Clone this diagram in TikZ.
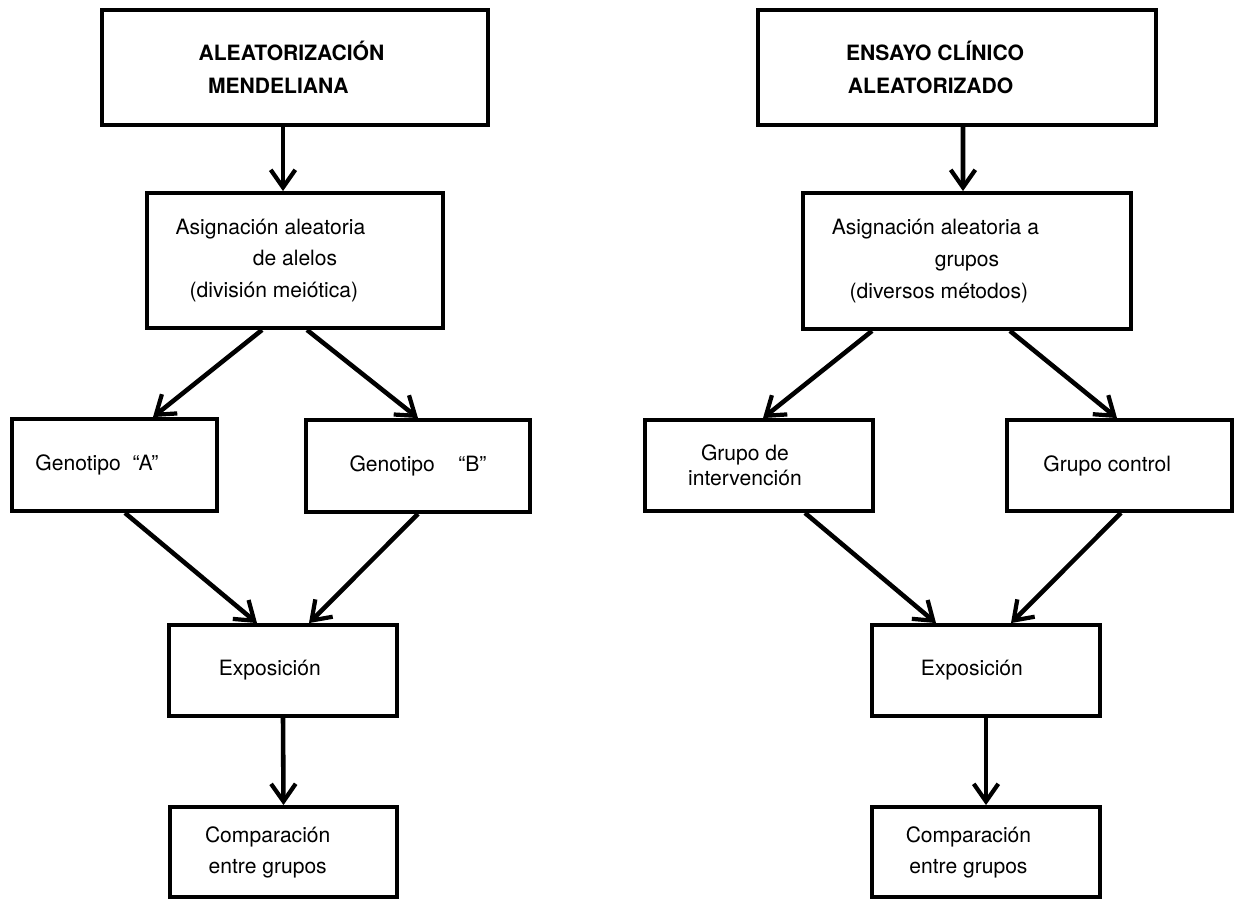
\documentclass[tikz,border=0pt]{standalone}
\usepackage{fontspec}
\setmainfont{TeX Gyre Heros}
\usetikzlibrary{arrows.meta,shadows}

\begin{document}
\begin{tikzpicture}[x=0.02cm,y=-0.02cm,
  caja/.style={draw,line width=2.2pt,fill=white,align=center,inner sep=0pt,
    font=\fontsize{12}{18}\selectfont,
    drop shadow={opacity=0.22,shadow xshift=1.4pt,shadow yshift=-1.4pt}},
  titulo/.style={caja,font=\fontsize{12}{19}\selectfont\bfseries},
  tam/.style 2 args={minimum width=#1*0.02cm,minimum height=#2*0.02cm},
  flecha/.style={-{Straight Barb[length=10pt,width=14pt,line width=2.4pt]},line width=2.6pt}]

  \useasboundingbox (0,0) rectangle (1234,899);

  % aleatorizacion mendeliana
  \node[titulo,tam={386}{115}] (mend) at (295,67.5) {ALEATORIZACIÓN\hspace*{4pt}\\ MENDELIANA\hspace*{19pt}};
  \node[caja,tam={296}{135}] (asigA) at (295,260.5) {Asignación aleatoria\hspace*{28pt}\\ de alelos\hspace*{12pt}\\ (división meiótica)\hspace*{24pt}};
  \node[caja,tam={205}{92}] (genA) at (114.5,465) {Genotipo\ \ “A”\hspace*{20pt}};
  \node[caja,tam={224}{92}] (genB) at (418,466) {Genotipo\ \ \ \ “B”};
  \node[caja,tam={228}{91}] (expA) at (283,670.5) {Exposición\hspace*{15pt}};
  \node[caja,tam={227}{90},font=\fontsize{12}{17.6}\selectfont] (compA) at (283.5,852) {Comparación\hspace*{18pt}\\ entre grupos\hspace*{18pt}};

  % ensayo clinico
  \node[titulo,tam={398}{115}] (ensayo) at (957,67.5) {ENSAYO CLÍNICO\hspace*{25pt}\\ ALEATORIZADO\hspace*{30pt}};
  \node[caja,tam={328}{136}] (asigB) at (967,261) {Asignación aleatoria a\hspace*{36pt}\\ grupos\hspace*{16pt}\\ (diversos métodos)\hspace*{32pt}};
  \node[caja,tam={228}{91},font=\fontsize{12}{14}\selectfont] (interv) at (759,465.5) {Grupo de\hspace*{16pt}\\ intervención\hspace*{16pt}};
  \node[caja,tam={225}{91}] (control) at (1119.5,465.5) {Grupo control\hspace*{14pt}};
  \node[caja,tam={228}{91}] (expB) at (986,670.5) {Exposición\hspace*{16pt}};
  \node[caja,tam={228}{90},font=\fontsize{12}{17.6}\selectfont] (compB) at (986,852) {Comparación\hspace*{20pt}\\ entre grupos\hspace*{20pt}};

  \draw[flecha] ([xshift=-0.24cm]mend.south) -- ([xshift=-0.24cm]asigA.north);
  \draw[flecha] ([xshift=-0.66cm]asigA.south) -- ([xshift=0.77cm]genA.north);
  \draw[flecha] ([xshift=0.24cm]asigA.south) -- (genB.north);
  \draw[flecha] ([xshift=0.21cm]genA.south) -- ([xshift=-0.52cm]expA.north);
  \draw[flecha] (genB.south) -- ([xshift=0.52cm]expA.north);
  \draw[flecha] (expA.south) -- (compA.north);

  \draw[flecha] ([xshift=0.12cm]ensayo.south) -- ([xshift=-0.08cm]asigB.north);
  \draw[flecha] ([xshift=-1.9cm]asigB.south) -- ([xshift=0.08cm]interv.north);
  \draw[flecha] ([xshift=0.86cm]asigB.south) -- ([xshift=-0.05cm]control.north);
  \draw[flecha] ([xshift=0.92cm]interv.south) -- ([xshift=-1cm]expB.north);
  \draw[flecha] ([xshift=0.03cm]control.south) -- ([xshift=0.5cm]expB.north);
  \draw[flecha] (expB.south) -- (compB.north);

\end{tikzpicture}
\end{document}
